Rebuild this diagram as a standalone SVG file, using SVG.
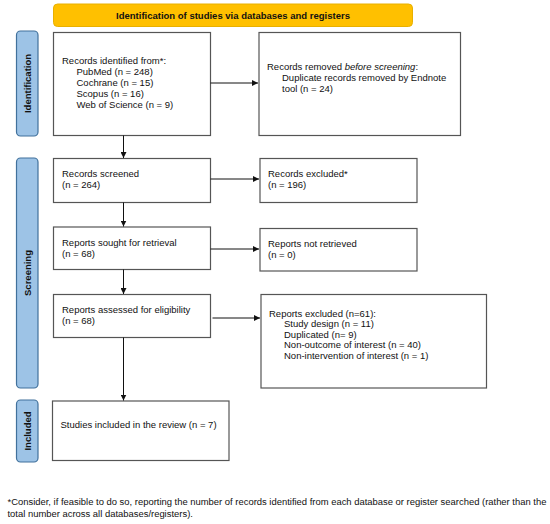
<svg xmlns="http://www.w3.org/2000/svg" width="550" height="524" viewBox="0 0 550 524">
<style>
text{font-family:"Liberation Sans",Arial,sans-serif;font-size:9.5px;fill:#111}
.b{font-weight:bold}
.fn{font-size:9.44px}
.box{fill:#fff;stroke:#555;stroke-width:1.2}
.side{fill:#9dc3e6;stroke:#41719c;stroke-width:1.2}
.hdr{fill:#ffc000;stroke:#e8b000;stroke-width:1}
.c{stroke:#111;stroke-width:1;fill:none;marker-end:url(#ah)}
</style>
<defs>
<marker id="ah" viewBox="0 0 10 10" refX="10" refY="5" markerWidth="6" markerHeight="6" markerUnits="userSpaceOnUse" orient="auto">
<path d="M0,0 L10,5 L0,10 z" fill="#111"/>
</marker>
</defs>
<rect width="550" height="524" fill="#fff"/>
<g id="header">
<rect class="hdr" x="53.5" y="4" width="359" height="22.5" rx="4"/>
<text class="b" x="233" y="18.5" text-anchor="middle">Identification of studies via databases and registers</text>
</g>
<g id="side-identification">
<rect class="side" x="16.5" y="31" width="21.5" height="105" rx="4"/>
<text class="b" transform="translate(30.5,83.5) rotate(-90)" text-anchor="middle">Identification</text>
</g>
<g id="side-screening">
<rect class="side" x="16.5" y="158" width="21.5" height="230" rx="4"/>
<text class="b" transform="translate(30.5,273) rotate(-90)" text-anchor="middle">Screening</text>
</g>
<g id="side-included">
<rect class="side" x="16.5" y="400" width="21.5" height="62" rx="4"/>
<text class="b" transform="translate(30.5,431) rotate(-90)" text-anchor="middle">Included</text>
</g>
<g id="records-identified">
<rect class="box" x="53.5" y="32.5" width="157" height="103"/>
<text x="62" y="64">Records identified from*:</text>
<text x="76.5" y="75">PubMed (n = 248)</text>
<text x="76.5" y="86">Cochrane (n = 15)</text>
<text x="76.5" y="97">Scopus (n = 16)</text>
<text x="76.5" y="108">Web of Science (n = 9)</text>
</g>
<g id="records-removed">
<rect class="box" x="259" y="32.5" width="201.5" height="103"/>
<text x="267" y="70">Records removed <tspan font-style="italic">before screening</tspan>:</text>
<text x="282" y="81">Duplicate records removed by Endnote</text>
<text x="282" y="92">tool (n = 24)</text>
</g>
<g id="records-screened">
<rect class="box" x="53.5" y="158.5" width="157" height="44"/>
<text x="62" y="177">Records screened</text>
<text x="62" y="188">(n = 264)</text>
</g>
<g id="records-excluded">
<rect class="box" x="260" y="158.5" width="157" height="44"/>
<text x="268" y="177">Records excluded*</text>
<text x="268" y="188">(n = 196)</text>
</g>
<g id="reports-sought">
<rect class="box" x="53.5" y="227" width="157" height="42.5"/>
<text x="62" y="245.5">Reports sought for retrieval</text>
<text x="62" y="256.5">(n = 68)</text>
</g>
<g id="reports-not-retrieved">
<rect class="box" x="260" y="228.5" width="157" height="42.5"/>
<text x="268" y="247">Reports not retrieved</text>
<text x="268" y="258">(n = 0)</text>
</g>
<g id="reports-assessed">
<rect class="box" x="53.5" y="294.5" width="157" height="43"/>
<text x="62" y="313">Reports assessed for eligibility</text>
<text x="62" y="324">(n = 68)</text>
</g>
<g id="reports-excluded">
<rect class="box" x="261" y="294.5" width="225.5" height="93.5"/>
<text x="269" y="316.5">Reports excluded (n=61):</text>
<text x="284" y="327">Study design (n = 11)</text>
<text x="284" y="337.5">Duplicated (n= 9)</text>
<text x="284" y="348">Non-outcome of interest (n = 40)</text>
<text x="284" y="358.5">Non-intervention of interest (n = 1)</text>
</g>
<g id="studies-included">
<rect class="box" x="52.5" y="401" width="176.5" height="59.5"/>
<text x="60.5" y="428">Studies included in the review (n = 7)</text>
</g>
<g id="connectors">
<line class="c" x1="210.5" y1="83" x2="258" y2="83"/>
<line class="c" x1="123.5" y1="135.5" x2="123.5" y2="158"/>
<line class="c" x1="210.5" y1="179" x2="259" y2="179"/>
<line class="c" x1="123.5" y1="202.5" x2="123.5" y2="226.5"/>
<line class="c" x1="210.5" y1="249" x2="259" y2="249"/>
<line class="c" x1="123.5" y1="269.5" x2="123.5" y2="294"/>
<line class="c" x1="212.5" y1="318" x2="260" y2="318"/>
<line class="c" x1="123.5" y1="337.5" x2="123.5" y2="400.5"/>
</g>
<g id="footnote">
<text class="fn" x="7.5" y="505">*Consider, if feasible to do so, reporting the number of records identified from each database or register searched (rather than the</text>
<text class="fn" x="7.5" y="516.5">total number across all databases/registers).</text>
</g>
</svg>
